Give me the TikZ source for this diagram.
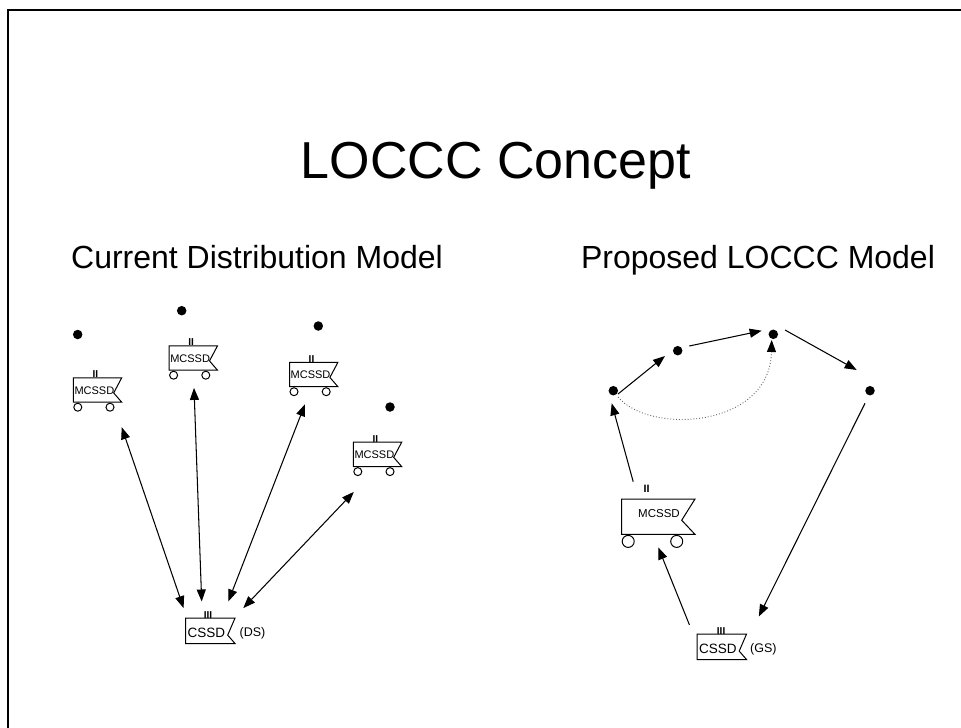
\documentclass[tikz,border=0pt]{standalone}
\usepackage{fontspec}
\setmainfont{Liberation Sans}
\usetikzlibrary{arrows.meta,calc}
\newcommand{\flagbox}[3]{%
  \draw[boxline] (#1.north west) -- (#1.north east) -- ($(#1.north east)!#3!(#1.south east)+(-#2,0)$) -- (#1.south east) -- (#1.south west) -- cycle;}
\newcommand{\wheelpair}[4]{%
  \draw[boxline] ([shift={(#2,#4+1)}]#1.south west) circle[radius=#4pt];
  \draw[boxline] ([shift={(-#3,#4+1)}]#1.south east) circle[radius=#4pt];}
\begin{document}
\begin{tikzpicture}[x=1pt,y=-1pt,
  boxline/.style={draw=black,line width=1pt},
  smallbox/.style={rectangle,inner sep=0pt,minimum width=48pt,minimum height=24pt},
  bigbox/.style={rectangle,inner sep=0pt,minimum width=73pt,minimum height=35pt},
  cbox/.style={rectangle,inner sep=0pt,minimum width=49pt,minimum height=25pt},
  dot/.style={circle,fill=black,inner sep=0pt,minimum size=9.5pt},
  lbl/.style={inner sep=0pt,font=\fontsize{11}{12}\selectfont},
  romanmark/.style={inner sep=0pt,anchor=base,font=\fontsize{10}{12}\selectfont\bfseries},
  arr/.style={line width=1.05pt,-{Triangle[length=12pt,width=9pt]}},
  dbl/.style={line width=1.05pt,{Triangle[length=12pt,width=9pt]}-{Triangle[length=12pt,width=9pt]}},
  dotline/.style={line width=0.9pt,draw=black!60,dotted,-{Triangle[length=12pt,width=9pt,fill=black,color=black]}}]
\useasboundingbox (0,0) rectangle (961,728);
\fill[white] (0,0) rectangle (961,728);
\draw[line width=2pt] (961,10) -- (8,10) -- (8,728);

% titles
\node[anchor=base,inner sep=0pt,font=\fontsize{52}{60}\selectfont] (title) at (496,178) {LOCCC Concept};
\node[anchor=base,inner sep=0pt,font=\fontsize{32}{38}\selectfont] (subL) at (257,268) {Current Distribution Model};
\node[anchor=base,inner sep=0pt,font=\fontsize{32}{38}\selectfont] (subR) at (758,268) {Proposed LOCCC Model};

% ---------- left model ----------
\node[dot] (d1) at (77.7,334.5) {};
\node[dot] (d2) at (181.7,310.7) {};
\node[dot] (d3) at (318.3,326) {};
\node[dot] (d4) at (390,407) {};

\node[smallbox] (m1) at (97.5,390) {};
\node[smallbox] (m2) at (193.3,358) {};
\node[smallbox] (m3) at (313.7,374.5) {};
\node[smallbox] (m4) at (377.5,454.4) {};
\foreach \m in {m1,m2,m3,m4}{
  \flagbox{\m}{8}{0.62}
  \wheelpair{\m}{4.5}{11.7}{4}
}
\node[lbl,anchor=west] (t1) at ([xshift=1pt,yshift=-0.5pt]m1.west) {MCSSD};
\node[lbl,anchor=west] (t2) at ([xshift=1pt,yshift=-0.5pt]m2.west) {MCSSD};
\node[lbl,anchor=west] (t3) at ([xshift=1pt,yshift=-0.5pt]m3.west) {MCSSD};
\node[lbl,anchor=west] (t4) at ([xshift=1pt,yshift=-0.5pt]m4.west) {MCSSD};
\node[romanmark] (k1) at ([xshift=22pt]m1.north west) {II};
\node[romanmark] (k2) at ([xshift=22pt]m2.north west) {II};
\node[romanmark] (k3) at ([xshift=22pt]m3.north west) {II};
\node[romanmark] (k4) at ([xshift=22pt]m4.north west) {II};

\node[cbox] (cs) at (210.3,630.8) {};
\flagbox{cs}{7.3}{0.67}
\node[inner sep=0pt,anchor=west,font=\fontsize{13.5}{15}\selectfont] (cst) at ([shift={(1.8,15)}]cs.north west) {CSSD};
\node[romanmark] (ck) at ([xshift=22.5pt]cs.north west) {III};
\node[inner sep=0pt,font=\fontsize{12.5}{15}\selectfont] (ds) at (252.5,633.5) {(DS)};

\draw[dbl] ([shift={(0,25)}]m1.south east) -- ([shift={(-2,-10)}]cs.north west);
\draw[dbl] ([shift={(0.7,17.7)}]m2.south) -- ([shift={(-8.6,-16.6)}]cs.north);
\draw[dbl] ([shift={(-8.7,17.5)}]m3.south) -- ([shift={(-6.7,-16.6)}]cs.north east);
\draw[dbl] ([shift={(0.5,25.3)}]m4.south west) -- ([shift={(8.3,-10)}]cs.north east);

% ---------- right model ----------
\node[dot] (dA) at (613.3,390.7) {};
\node[dot] (dB) at (677.7,350.7) {};
\node[dot] (dC) at (773.3,334.3) {};
\node[dot] (dD) at (870,390.7) {};

\node[bigbox] (big) at (658.3,516.7) {};
\flagbox{big}{13.3}{0.6}
\wheelpair{big}{6.6}{18.3}{6}
\node[inner sep=0pt,font=\fontsize{11.5}{14}\selectfont] (bigt) at (659,514) {MCSSD};
\node[inner sep=0pt,font=\fontsize{10.7}{13}\selectfont\bfseries] (bigk) at (646.7,488.5) {II};

\node[cbox] (gs) at (721.8,646.8) {};
\flagbox{gs}{7.3}{0.67}
\node[inner sep=0pt,anchor=west,font=\fontsize{13.5}{15}\selectfont] (gst) at ([shift={(1.8,15)}]gs.north west) {CSSD};
\node[romanmark] (gk) at ([xshift=24pt]gs.north west) {III};
\node[inner sep=0pt,font=\fontsize{12.5}{15}\selectfont] (gsl) at (763.3,649.3) {(GS)};

\draw[arr] ([shift={(4.7,3.3)}]dA.center) -- ([shift={(-12.7,5.3)}]dB.center);
\draw[arr] ([shift={(11.6,-4.7)}]dB.center) -- ([shift={(-11.6,-3.6)}]dC.center);
\draw[arr] ([shift={(11.7,-4.3)}]dC.center) -- ([shift={(-13.3,-20.7)}]dD.center);
\draw[dotline] ([shift={(4.7,6.3)}]dA.center) .. controls +(32,38) and +(-1.7,88) .. ([shift={(-1.6,5.7)}]dC.center);
\draw[arr] ([shift={(11.6,-17.3)}]big.north west) -- ([shift={(-1.6,12.6)}]dA.center);
\draw[arr] ([shift={(-5,12.6)}]dD.center) -- ([shift={(12.3,-17.6)}]gs.north east);
\draw[arr] ([shift={(-7.7,-9.3)}]gs.north west) -- ([shift={(0,13)}]big.south);
\end{tikzpicture}
\end{document}
